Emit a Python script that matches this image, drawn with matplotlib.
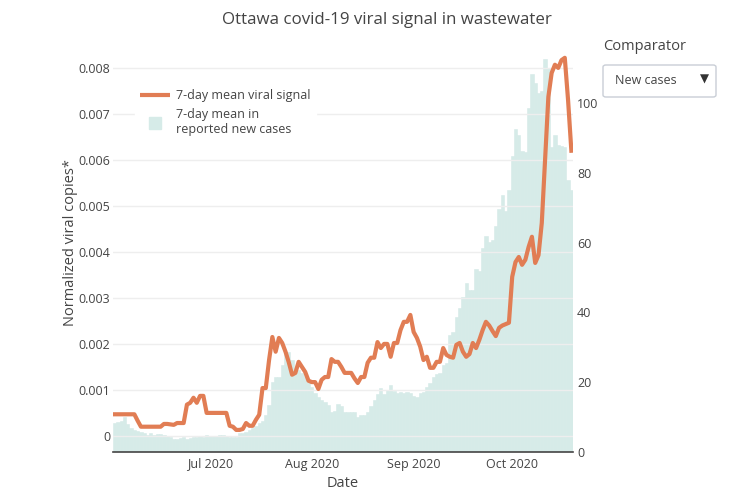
import numpy as np
import matplotlib
matplotlib.use("Agg")
import matplotlib.pyplot as plt
import matplotlib.dates as mdates
from matplotlib.patches import FancyBboxPatch
from matplotlib.lines import Line2D

# ---------------- data ----------------
start_date = "2020-06-02"

viral_signal = [
    0.00047, 0.00047, 0.00047, 0.00047, 0.00047, 0.00047, 0.00047,
    0.00033, 0.00020, 0.00020, 0.00020, 0.00020, 0.00020, 0.00020, 0.00020,
    0.00026, 0.00026, 0.00025, 0.00024, 0.00028, 0.00028, 0.00028,
    0.00068, 0.00072, 0.00083, 0.00072, 0.00087, 0.00087,
    0.00050, 0.00050, 0.00050, 0.00050, 0.00050, 0.00050, 0.00050,
    0.00022, 0.00020, 0.00013, 0.00013, 0.00015, 0.00028, 0.00022, 0.00022,
    0.00035, 0.00046, 0.00104, 0.00104, 0.00165, 0.00215, 0.00183, 0.00213,
    0.00202, 0.00183, 0.00160, 0.00133, 0.00137, 0.00161, 0.00150, 0.00139,
    0.00120, 0.00117, 0.00117, 0.00102, 0.00122, 0.00128, 0.00128, 0.00167,
    0.00161, 0.00161, 0.00150, 0.00137, 0.00137, 0.00137, 0.00125, 0.00115,
    0.00128, 0.00128, 0.00159, 0.00170, 0.00170, 0.00204, 0.00191, 0.00200,
    0.00200, 0.00172, 0.00202, 0.00202, 0.00230, 0.00248, 0.00248, 0.00263,
    0.00226, 0.00213, 0.00194, 0.00165, 0.00172, 0.00148, 0.00148, 0.00161,
    0.00161, 0.00191, 0.00176, 0.00172, 0.00170, 0.00198, 0.00202, 0.00183,
    0.00172, 0.00178, 0.00202, 0.00191, 0.00209, 0.00230, 0.00248, 0.00240,
    0.00228, 0.00217, 0.00235, 0.00240, 0.00243, 0.00246, 0.00346, 0.00378,
    0.00389, 0.00372, 0.00383, 0.00411, 0.00433, 0.00376, 0.00393, 0.00463,
    0.00600, 0.00737, 0.00789, 0.00807, 0.00800, 0.00817, 0.00822, 0.00730,
    0.00620,
]

new_cases = [
    8.3, 8.5, 8.9, 10.0, 8.0, 6.9, 6.3, 5.9, 5.6, 5.4, 5.0, 5.4, 5.0, 5.2,
    5.2, 5.0, 4.7, 4.3, 3.8, 3.7, 4.1, 4.3, 3.6, 4.1, 4.3, 4.3, 4.6, 4.3,
    4.9, 4.6, 4.6, 4.6, 4.9, 4.8, 4.6, 4.3, 4.3, 4.4, 5.4, 5.5, 5.7, 6.2,
    6.9, 7.5, 8.2, 9.0, 10.5, 13.5, 20.0, 21.5, 21.5, 25.0, 28.0, 28.7,
    26.5, 24.0, 23.5, 22.5, 21.5, 20.0, 18.5, 17.0, 15.8, 15.0, 14.2, 13.5,
    11.5, 11.8, 13.8, 13.2, 11.6, 11.5, 11.5, 11.4, 10.0, 10.6, 10.6, 11.5,
    13.2, 14.9, 16.5, 18.3, 16.5, 17.8, 19.2, 17.5, 16.9, 17.2, 17.0, 17.2,
    16.9, 16.0, 15.8, 16.9, 17.2, 18.6, 19.8, 21.5, 22.3, 22.6, 24.9, 25.5,
    33.5, 34.5, 38.7, 41.3, 44.4, 48.4, 46.4, 46.4, 52.4, 51.9, 58.5, 61.9,
    60.2, 60.7, 64.8, 69.6, 73.6, 69.0, 75.0, 84.8, 92.5, 90.8, 86.2, 86.0,
    98.6, 108.3, 105.7, 103.0, 103.4, 112.6, 110.0, 87.4, 90.8, 88.0, 87.7,
    87.5, 78.0, 75.0,
]

left_ticks = [0, 0.001, 0.002, 0.003, 0.004, 0.005, 0.006, 0.007, 0.008]
left_tick_labels = ["0", "0.001", "0.002", "0.003", "0.004", "0.005", "0.006", "0.007", "0.008"]
right_ticks = [0, 20, 40, 60, 80, 100]

title = "Ottawa covid-19 viral signal in wastewater"
x_label = "Date"
y_label = "Normalized viral copies*"
legend_line = "7-day mean viral signal"
legend_bar = "7-day mean in\nreported new cases"
comparator_label = "Comparator"
dropdown_value = "New cases"

# ---------------- style ----------------
FONT = ["Open Sans", "DejaVu Sans"]
plt.rcParams["font.family"] = FONT
TXT = "#444444"
GRID = "#eeeeee"
BAR_C = "#d6ebe8"
LINE_C = "#e17d54"

W, H = 733, 494
fig = plt.figure(figsize=(W / 100, H / 100), dpi=100)

L, R, T, B = 113, 573, 50, 452
rect = [L / W, (H - B) / H, (R - L) / W, (B - T) / H]

dates = np.datetime64(start_date) + np.arange(len(viral_signal))
bar_dates = np.datetime64(start_date) + np.arange(len(new_cases))

ax_bar = fig.add_axes(rect)
ax_bar.bar(bar_dates, new_cases, width=1.0, color=BAR_C, edgecolor=BAR_C,
           linewidth=0.4, zorder=1)
ax_line = ax_bar.twinx()
ax_line.plot(dates, viral_signal, color=LINE_C, lw=3.0,
             solid_joinstyle="round", zorder=3)

ax_bar.yaxis.tick_right()
ax_line.yaxis.tick_left()
ax_bar.set_ylim(0, 115.2)
ax_line.set_ylim(-0.00035, 0.00839)

x0 = np.datetime64(start_date) - np.timedelta64(12, "h")
x1 = np.datetime64(start_date) + np.timedelta64(len(viral_signal) - 1, "D") + np.timedelta64(12, "h")
ax_bar.set_xlim(x0, x1)

ax_line.set_yticks(left_ticks)
ax_line.set_yticklabels(left_tick_labels)
ax_bar.set_yticks(right_ticks)
ax_line.grid(axis="y", color=GRID, lw=1.0, zorder=0)
ax_line.set_axisbelow(True)

ax_bar.xaxis.set_major_locator(mdates.MonthLocator(bymonthday=1))
ax_bar.xaxis.set_major_formatter(mdates.DateFormatter("%b %Y"))

for a in (ax_bar, ax_line):
    for s in a.spines.values():
        s.set_visible(False)
    a.tick_params(axis="both", length=0, labelsize=9, labelcolor=TXT)
ax_bar.spines["bottom"].set_visible(True)
ax_bar.spines["bottom"].set_color(TXT)
ax_bar.spines["bottom"].set_linewidth(1.2)
ax_bar.tick_params(axis="x", pad=4)
ax_bar.tick_params(axis="y", pad=3)
ax_line.tick_params(axis="y", pad=2)

# legend
h_line = Line2D([], [], color=LINE_C, lw=3.0, solid_capstyle="butt")
h_bar = Line2D([], [], color=BAR_C, lw=0, marker="s", markersize=9,
               markerfacecolor=BAR_C, markeredgecolor=BAR_C)
leg = ax_line.legend([h_line, h_bar], [legend_line, legend_bar], loc="upper left",
                     bbox_to_anchor=(0.034, 0.93), frameon=True,
                     fancybox=False, framealpha=1.0, facecolor="white",
                     edgecolor="white", fontsize=9, handlelength=2.4,
                     handletextpad=0.5, labelspacing=0.45, borderpad=0.4)
for t in leg.get_texts():
    t.set_color(TXT)

# titles / labels
fig.text(387 / W, 1 - 20 / H, title, ha="center", va="center",
         fontsize=12.2, color=TXT)
fig.text(343 / W, 1 - 483 / H, x_label, ha="center", va="center",
         fontsize=10.5, color=TXT)
fig.text(70 / W, 1 - 243 / H, y_label, ha="center", va="center",
         rotation=90, fontsize=10.5, color=TXT)

# comparator dropdown
fig.text(603 / W, 1 - 47 / H, comparator_label, ha="left", va="center",
         fontsize=10.5, color=TXT)
box = FancyBboxPatch((603 / W, 1 - 97 / H), 113 / W, 32 / H,
                     boxstyle="round,pad=0,rounding_size=0.004",
                     transform=fig.transFigure, facecolor="white",
                     edgecolor="#c9ced6", lw=1.0)
fig.patches.append(box)
fig.text(615 / W, 1 - 80 / H, dropdown_value, ha="left", va="center",
         fontsize=9, color=TXT)
fig.text(704 / W, 1 - 79 / H, "\u25BC", ha="center", va="center",
         fontsize=8.5, color="#333333", family="DejaVu Sans")

fig.savefig("out.png", dpi=100)
